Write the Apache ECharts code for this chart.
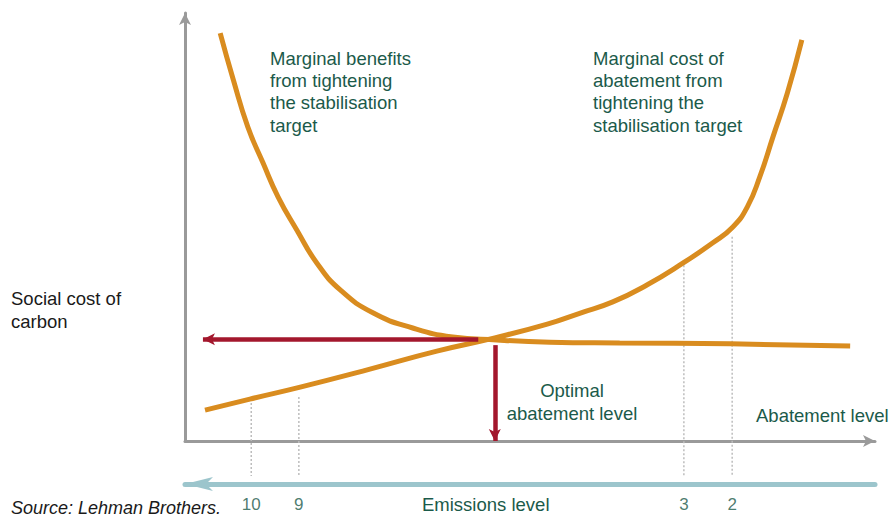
<!DOCTYPE html>
<html>
<head>
<meta charset="utf-8">
<script src="https://cdn.jsdelivr.net/npm/echarts@6/dist/echarts.min.js"></script>
<style>
html,body{margin:0;padding:0;background:#fff;}
#chart{width:894px;height:520px;}
</style>
</head>
<body>
<div id="chart"></div>
<script>
// Marginal benefits curve (abatement level, social cost) on 0-100 conceptual scales
var benefitX = [5.1, 7.0, 9.1, 11.3, 13.5, 16.2, 19.1, 22.5, 27.3, 33.0, 38.8, 45.2, 52.9, 63.0, 79.0, 96.4];
var benefitY = [95.3, 84.4, 73.4, 65.0, 57.0, 49.3, 41.6, 35.3, 29.9, 26.4, 24.3, 23.6, 23.1, 22.9, 22.7, 22.2];
// Marginal cost of abatement curve
var costX = [2.9, 9.4, 16.7, 26.8, 36.5, 44.9, 52.5, 57.3, 62.0, 67.0, 72.2, 76.5, 79.4, 81.5, 83.3, 85.2, 87.3, 89.4];
var costY = [7.2, 9.8, 12.6, 16.8, 21.0, 24.1, 27.3, 29.9, 32.5, 36.5, 41.6, 46.3, 50.0, 54.7, 61.7, 71.0, 81.3, 93.7];
// Emissions level ticks (positions on abatement axis)
var emissionLabels = ['10', '9', '3', '2'];
var emissionX = [9.6, 16.5, 72.3, 79.3];
var emissionTopY = [8.9, 10.3, 42.0, 47.7];
var emissionBottomY = -8.2;
// Optimum and arrows
var optimumX = 44.9;
var optimumY = 23.8;
var horizArrowStartX = 42.5;
var horizArrowEndX = 2.6;
var vertArrowStartY = 22.4;
var vertArrowEndY = 0;

var ORANGE = '#D98C1F';
var RED = '#A3172D';
var GREEN = '#1B5A4A';
var GRAY = '#9A9A9A';
var BLUE = '#9CC5CC';
var FONT = '"Liberation Sans", Arial, sans-serif';

function zip(xs, ys) { return xs.map(function (x, i) { return [x, ys[i]]; }); }

var series = [
  { type: 'line', data: zip(benefitX, benefitY), smooth: 0.5, showSymbol: false, symbol: 'none',
    lineStyle: { color: ORANGE, width: 5 }, silent: true, z: 3 },
  { type: 'line', data: zip(costX, costY), smooth: 0.5, showSymbol: false, symbol: 'none',
    lineStyle: { color: ORANGE, width: 5 }, silent: true, z: 3 },
  { type: 'line', data: [], silent: true, z: 4,
    markLine: {
      silent: true, animation: false,
      label: { show: false },
      lineStyle: { color: RED, width: 4.5, type: 'solid' },
      symbol: ['none', 'arrow'], symbolSize: [9, 12],
      data: [
        [{ coord: [horizArrowStartX, optimumY] }, { coord: [horizArrowEndX, optimumY] }],
        [{ coord: [optimumX, vertArrowStartY] }, { coord: [optimumX, vertArrowEndY] }]
      ]
    }
  },
  { type: 'scatter', clip: false, silent: true, symbolSize: 0, z: 5,
    data: emissionX.map(function (x, i) { return { value: [x, emissionBottomY], name: emissionLabels[i] }; }),
    label: { show: true, position: 'bottom', distance: 20, formatter: '{b}',
             color: GREEN, fontSize: 17, fontFamily: FONT } }
];
emissionX.forEach(function (x, i) {
  series.push({
    type: 'line', clip: false, silent: true, z: 1, symbol: 'none', showSymbol: false,
    lineStyle: { color: '#BDBDBD', width: 1.5, type: [2, 2] },
    data: [[x, emissionTopY[i]], [x, emissionBottomY]]
  });
});

var chart = echarts.init(document.getElementById('chart'), null, { renderer: 'svg' });
chart.setOption({
  animation: false,
  backgroundColor: '#fff',
  grid: { left: 185, right: 19, top: 13, bottom: 79, containLabel: false },
  xAxis: [
    { type: 'value', min: 0, max: 100, position: 'bottom',
      axisLine: { show: true, onZero: false, lineStyle: { color: GRAY, width: 3 },
                  symbol: ['none', 'arrow'], symbolSize: [9, 12], symbolOffset: [0, 0] },
      axisTick: { show: false }, axisLabel: { show: false }, splitLine: { show: false } },
    { type: 'value', min: 0, max: 100, position: 'bottom', offset: 43,
      axisLine: { show: true, onZero: false, lineStyle: { color: BLUE, width: 5 },
                  symbol: ['arrow', 'none'], symbolSize: [10.5, 28], symbolOffset: [0, 0] },
      axisTick: { show: false }, axisLabel: { show: false }, splitLine: { show: false } }
  ],
  yAxis: { type: 'value', min: 0, max: 100,
    axisLine: { show: true, onZero: false, lineStyle: { color: GRAY, width: 3 },
                symbol: ['none', 'arrow'], symbolSize: [9, 12], symbolOffset: [0, 0] },
    axisTick: { show: false }, axisLabel: { show: false }, splitLine: { show: false } },
  series: series,
  graphic: [
    { type: 'text', left: 270, top: 47, silent: true,
      style: { text: 'Marginal benefits\nfrom tightening\nthe stabilisation\ntarget', font: '18.5px ' + FONT, fill: GREEN, lineHeight: 22.3 } },
    { type: 'text', left: 593, top: 47, silent: true,
      style: { text: 'Marginal cost of\nabatement from\ntightening the\nstabilisation target', font: '18.5px ' + FONT, fill: GREEN, lineHeight: 22.3 } },
    { type: 'text', left: 11, top: 287, silent: true,
      style: { text: 'Social cost of\ncarbon', font: '18.5px ' + FONT, fill: '#1a1a1a', lineHeight: 23 } },
    { type: 'text', x: 572, y: 379, silent: true,
      style: { text: 'Optimal\nabatement level', font: '18.5px ' + FONT, fill: GREEN, lineHeight: 23, align: 'center', verticalAlign: 'top' } },
    { type: 'text', x: 756, y: 406, silent: true,
      style: { text: 'Abatement level', font: '18.5px ' + FONT, fill: GREEN, verticalAlign: 'top' } },
    { type: 'text', x: 422, y: 495, silent: true,
      style: { text: 'Emissions level', font: '18.5px ' + FONT, fill: GREEN, verticalAlign: 'top' } },
    { type: 'text', x: 11, y: 499, silent: true,
      style: { text: 'Source: Lehman Brothers.', font: 'italic 18px ' + FONT, fill: '#1a1a1a', verticalAlign: 'top' } }
  ]
});
</script>
</body>
</html>
